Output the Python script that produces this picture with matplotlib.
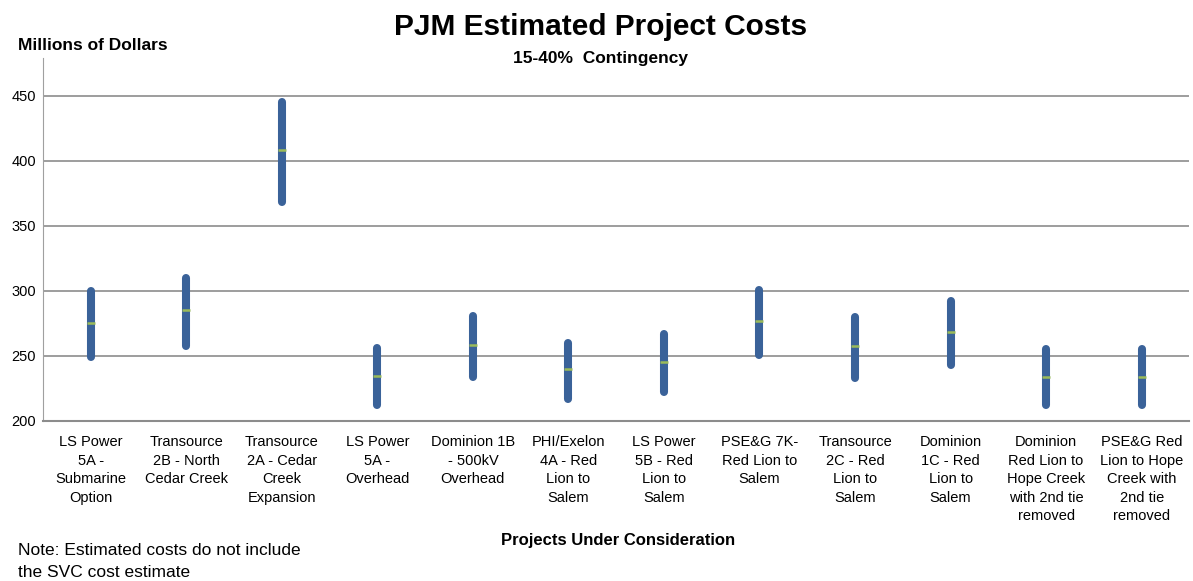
import numpy as np
import matplotlib
matplotlib.use("Agg")
import matplotlib.pyplot as plt

plt.rcParams['font.family'] = ['Liberation Sans', 'DejaVu Sans']

projects = ["LS Power\n5A -\nSubmarine\nOption",
            "Transource\n2B - North\nCedar Creek",
            "Transource\n2A - Cedar\nCreek\nExpansion",
            "LS Power\n5A -\nOverhead",
            "Dominion 1B\n- 500kV\nOverhead",
            "PHI/Exelon\n4A - Red\nLion to\nSalem",
            "LS Power\n5B - Red\nLion to\nSalem",
            "PSE&G 7K-\nRed Lion to\nSalem",
            "Transource\n2C - Red\nLion to\nSalem",
            "Dominion\n1C - Red\nLion to\nSalem",
            "Dominion\nRed Lion to\nHope Creek\nwith 2nd tie\nremoved",
            "PSE&G Red\nLion to Hope\nCreek with\n2nd tie\nremoved"]
low = [249, 258, 368, 212, 234, 217, 222, 251, 233, 243, 212, 212]
high = [300, 310, 445, 256, 281, 260, 267, 301, 280, 292, 255, 255]
mid = [275.6, 285.3, 408, 234.8, 258.6, 239.8, 245, 276.9, 257.4, 268.5, 234, 234]

fig = plt.figure(figsize=(11.93, 5.81), dpi=100)
ax = fig.add_axes([0.036, 0.2754, 0.961, 0.6246])

x = np.arange(len(projects))
ax.vlines(x, low, high, color='#3a6299', linewidth=5.8, capstyle='round', zorder=3)
ax.scatter(x, mid, marker='_', s=36, color='#9bbb59', linewidths=1.8, zorder=4)

ax.set_xlim(-0.5, len(projects) - 0.5)
ax.set_ylim(200, 479)
ax.set_yticks(range(200, 451, 50))
ax.set_xticks(x)
ax.set_xticklabels(projects, fontsize=10.5, linespacing=1.42)
ax.tick_params(axis='both', length=0, labelsize=10.5)
ax.tick_params(axis='x', pad=10)
ax.tick_params(axis='y', pad=5)
ax.yaxis.grid(True, color='#8c8c8c', linewidth=1.2, zorder=0)
ax.set_axisbelow(True)
for s in ['top', 'right']:
    ax.spines[s].set_visible(False)
ax.spines['left'].set_color('#a0a0a0')
ax.spines['bottom'].set_color('#8c8c8c')
ax.spines['bottom'].set_linewidth(1.5)

fig.text(0.503, 0.953, "PJM Estimated Project Costs", ha='center', va='center',
         fontsize=21.5, fontweight='bold')
fig.text(0.503, 0.900, "15-40%  Contingency", ha='center', va='center',
         fontsize=12.5, fontweight='bold')
fig.text(0.015, 0.922, "Millions of Dollars", ha='left', va='center',
         fontsize=12.5, fontweight='bold')
fig.text(0.518, 0.069, "Projects Under Consideration", ha='center', va='center',
         fontsize=12, fontweight='bold')
fig.text(0.015, 0.033, "Note: Estimated costs do not include\nthe SVC cost estimate",
         ha='left', va='center', fontsize=12.5, linespacing=1.6)

fig.savefig("out.png", dpi=100)
